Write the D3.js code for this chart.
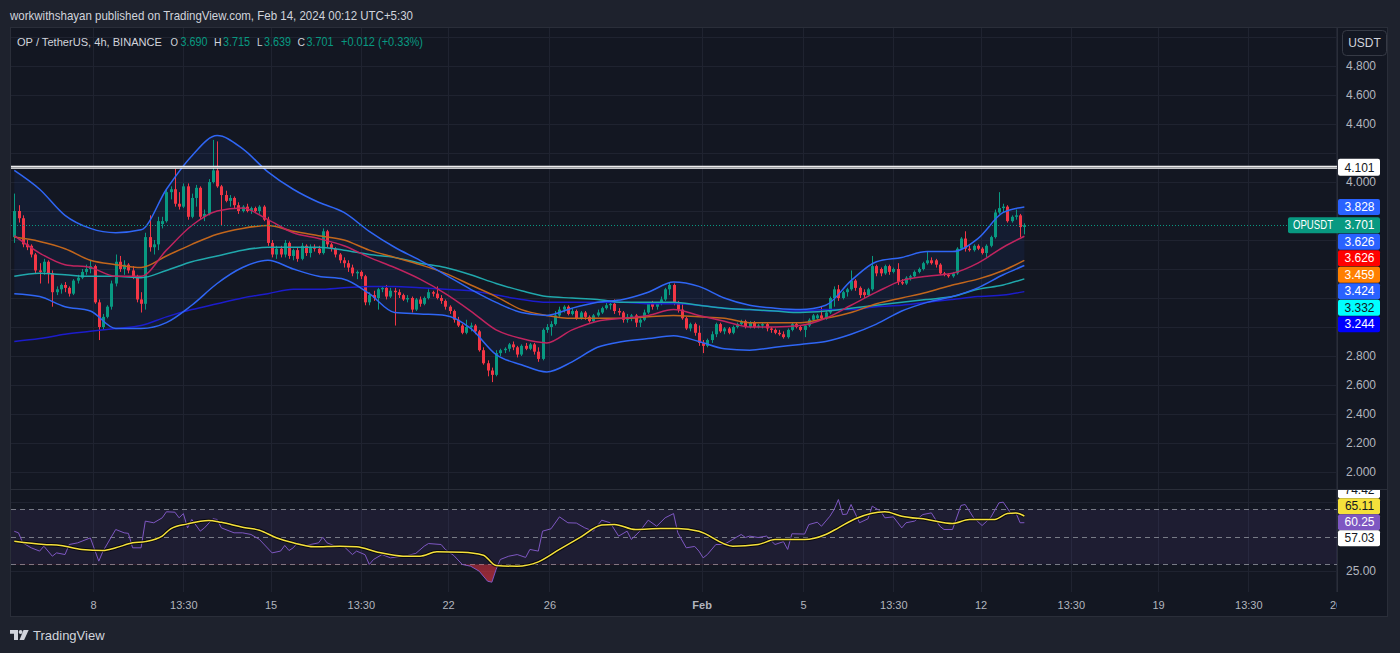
<!DOCTYPE html>
<html><head><meta charset="utf-8">
<script src="https://cdn.jsdelivr.net/npm/d3@7"></script>
<style>
html,body{margin:0;padding:0;background:#1e222d;}
svg{display:block;}
text{font-family:"Liberation Sans",Arial,sans-serif;}
</style></head><body>
<svg id="c" width="1400" height="653"></svg>
<script>
// ---------------- DATA ----------------
const headerText = "workwithshayan published on TradingView.com, Feb 14, 2024 00:12 UTC+5:30";
const symbolText = "OP / TetherUS, 4h, BINANCE";
const candleStart = "2024-01-04T21:30";
const candleStepHours = 4;

const opens = [
3.62,3.80,3.75,3.57,3.56,3.50,3.39,3.38,3.45,3.37,
3.24,3.26,3.29,3.27,3.23,3.32,3.34,3.38,3.40,3.42,
3.17,3.00,3.07,3.14,3.30,3.45,3.40,3.43,3.39,3.35,
3.19,3.16,3.62,3.55,3.57,3.71,3.73,3.93,3.95,3.85,
3.83,3.97,3.76,3.89,3.96,3.76,3.78,4.00,4.08,3.97,
3.91,3.87,3.89,3.84,3.80,3.83,3.80,3.82,3.80,3.83,
3.74,3.58,3.50,3.54,3.50,3.58,3.49,3.53,3.47,3.56,
3.51,3.55,3.54,3.51,3.66,3.57,3.54,3.50,3.46,3.44,
3.41,3.37,3.38,3.35,3.17,3.22,3.20,3.26,3.27,3.21,
3.25,3.24,3.22,3.19,3.20,3.12,3.19,3.16,3.20,3.24,
3.23,3.20,3.18,3.14,3.11,3.05,3.01,2.96,3.00,3.01,
2.97,2.84,2.75,2.70,2.67,2.82,2.84,2.85,2.88,2.86,
2.81,2.87,2.85,2.88,2.83,2.78,2.98,3.00,3.02,3.08,
3.12,3.14,3.09,3.11,3.06,3.10,3.07,3.04,3.08,3.10,
3.13,3.15,3.16,3.11,3.10,3.05,3.07,3.08,3.03,3.05,
3.10,3.16,3.14,3.16,3.19,3.26,3.29,3.16,3.12,3.06,
2.99,3.02,2.96,2.89,2.87,2.91,2.95,3.02,2.97,2.99,
2.96,3.00,3.02,3.04,3.00,3.03,3.00,3.01,3.02,2.99,
2.98,2.96,2.95,2.93,2.98,3.02,3.00,2.98,3.01,3.05,
3.06,3.08,3.06,3.10,3.20,3.26,3.20,3.24,3.26,3.32,
3.27,3.24,3.22,3.26,3.42,3.40,3.37,3.42,3.38,3.40,
3.31,3.30,3.34,3.35,3.38,3.40,3.44,3.46,3.46,3.43,
3.37,3.36,3.35,3.37,3.54,3.61,3.54,3.53,3.56,3.54,
3.51,3.56,3.62,3.79,3.82,3.83,3.73,3.76,3.77,3.690];

const highs = [
3.92,3.84,3.77,3.60,3.57,3.51,3.44,3.47,3.46,3.39,
3.28,3.30,3.31,3.28,3.33,3.36,3.40,3.43,3.46,3.43,
3.19,3.09,3.15,3.32,3.50,3.49,3.46,3.44,3.42,3.36,
3.24,3.65,3.77,3.60,3.76,3.76,3.95,3.97,4.09,3.93,
3.99,3.99,3.92,3.98,3.97,3.81,4.02,4.29,4.28,3.98,
3.94,3.91,3.90,3.86,3.84,3.85,3.83,3.83,3.84,3.84,
3.76,3.60,3.56,3.56,3.60,3.59,3.54,3.55,3.58,3.57,
3.57,3.57,3.56,3.68,3.67,3.58,3.55,3.51,3.48,3.46,
3.43,3.39,3.39,3.36,3.24,3.25,3.27,3.28,3.29,3.27,
3.27,3.26,3.23,3.22,3.21,3.20,3.21,3.21,3.26,3.25,
3.28,3.22,3.19,3.15,3.12,3.07,3.02,3.05,3.03,3.02,
2.98,2.86,2.77,2.72,2.84,2.85,2.86,2.89,2.90,2.87,
2.88,2.89,2.89,2.89,2.86,2.99,3.02,3.04,3.11,3.14,
3.15,3.15,3.13,3.12,3.11,3.11,3.08,3.09,3.12,3.14,
3.17,3.18,3.19,3.13,3.11,3.09,3.09,3.09,3.06,3.12,
3.17,3.18,3.17,3.21,3.27,3.31,3.30,3.18,3.16,3.07,
3.03,3.03,3.01,2.91,2.92,2.97,3.03,3.03,3.00,3.00,
3.01,3.03,3.05,3.05,3.04,3.04,3.02,3.03,3.03,3.00,
2.99,2.98,2.97,2.99,3.03,3.03,3.01,3.02,3.06,3.09,
3.09,3.14,3.11,3.21,3.28,3.29,3.25,3.27,3.39,3.33,
3.28,3.26,3.27,3.49,3.43,3.41,3.43,3.43,3.41,3.44,
3.33,3.35,3.36,3.39,3.41,3.45,3.52,3.48,3.47,3.44,
3.38,3.37,3.38,3.55,3.62,3.66,3.56,3.57,3.57,3.55,
3.57,3.63,3.81,3.93,3.85,3.84,3.77,3.81,3.78,3.715];

const lows = [
3.58,3.72,3.55,3.53,3.48,3.37,3.30,3.36,3.30,3.14,
3.22,3.23,3.24,3.21,3.22,3.30,3.33,3.36,3.37,3.16,
2.91,2.98,3.06,3.12,3.28,3.38,3.36,3.37,3.33,3.17,
3.10,3.12,3.52,3.50,3.53,3.68,3.72,3.88,3.83,3.81,
3.82,3.74,3.75,3.83,3.74,3.73,3.77,3.99,3.96,3.70,
3.86,3.83,3.82,3.78,3.79,3.79,3.78,3.79,3.78,3.73,
3.56,3.48,3.47,3.48,3.48,3.47,3.46,3.45,3.46,3.49,
3.48,3.52,3.50,3.50,3.55,3.52,3.48,3.44,3.41,3.38,
3.35,3.33,3.33,3.15,3.15,3.18,3.12,3.24,3.19,3.20,
3.01,3.20,3.18,3.17,3.10,3.11,3.14,3.15,3.19,3.21,
3.19,3.16,3.12,3.09,3.03,3.00,2.95,2.95,2.97,2.95,
2.83,2.74,2.66,2.62,2.66,2.80,2.82,2.83,2.84,2.79,
2.80,2.84,2.84,2.81,2.76,2.77,2.96,2.94,3.01,3.07,
3.10,3.08,3.08,3.05,3.05,3.05,3.03,3.03,3.07,3.09,
3.12,3.12,3.09,3.08,3.03,3.03,3.04,3.00,3.00,3.04,
3.09,3.12,3.12,3.15,3.18,3.22,3.15,3.10,3.05,2.98,
2.97,2.94,2.87,2.82,2.86,2.89,2.93,2.96,2.95,2.95,
2.95,2.99,3.01,2.99,2.99,2.99,2.99,2.99,2.97,2.96,
2.95,2.94,2.92,2.92,2.97,2.99,2.97,2.93,3.00,3.04,
3.05,3.05,3.05,3.09,3.14,3.18,3.19,3.21,3.25,3.25,
3.20,3.20,3.21,3.25,3.35,3.35,3.36,3.36,3.37,3.29,
3.29,3.29,3.32,3.34,3.37,3.39,3.43,3.43,3.41,3.36,
3.35,3.34,3.34,3.36,3.53,3.52,3.52,3.52,3.53,3.50,
3.48,3.55,3.61,3.78,3.79,3.72,3.72,3.74,3.62,3.639];

const closes = [
3.80,3.75,3.57,3.55,3.50,3.39,3.38,3.45,3.37,3.24,
3.26,3.29,3.27,3.23,3.32,3.34,3.38,3.40,3.42,3.17,
3.00,3.07,3.14,3.30,3.45,3.40,3.43,3.39,3.35,3.19,
3.16,3.62,3.55,3.57,3.73,3.73,3.93,3.95,3.85,3.83,
3.97,3.76,3.89,3.96,3.76,3.78,4.00,4.08,3.97,3.91,
3.87,3.89,3.84,3.80,3.83,3.80,3.82,3.80,3.83,3.74,
3.58,3.50,3.54,3.50,3.58,3.49,3.53,3.47,3.56,3.51,
3.55,3.54,3.51,3.66,3.57,3.54,3.50,3.46,3.44,3.41,
3.37,3.38,3.35,3.17,3.22,3.20,3.26,3.27,3.21,3.25,
3.24,3.22,3.19,3.20,3.12,3.19,3.16,3.20,3.24,3.23,
3.20,3.18,3.14,3.11,3.05,3.01,2.96,3.00,3.01,2.97,
2.84,2.75,2.70,2.67,2.82,2.84,2.85,2.88,2.86,2.81,
2.87,2.85,2.88,2.83,2.78,2.98,3.00,3.02,3.08,3.12,
3.14,3.09,3.11,3.06,3.10,3.07,3.04,3.08,3.10,3.13,
3.15,3.16,3.11,3.10,3.05,3.07,3.08,3.03,3.05,3.10,
3.16,3.14,3.16,3.19,3.26,3.29,3.16,3.12,3.06,2.99,
3.02,2.96,2.89,2.87,2.91,2.95,3.02,2.97,2.99,2.96,
3.00,3.02,3.04,3.00,3.03,3.00,3.01,3.02,2.99,2.98,
2.96,2.95,2.93,2.98,3.02,3.00,2.98,3.01,3.05,3.08,
3.08,3.06,3.10,3.20,3.26,3.20,3.24,3.26,3.32,3.27,
3.22,3.22,3.26,3.42,3.37,3.37,3.42,3.38,3.40,3.31,
3.30,3.34,3.35,3.38,3.40,3.44,3.46,3.44,3.43,3.37,
3.36,3.35,3.37,3.54,3.61,3.54,3.53,3.56,3.54,3.51,
3.56,3.62,3.79,3.82,3.83,3.73,3.76,3.77,3.689,3.701];

// indicator lines, read at these candle indexes
const indSampleIdx = [0,6,12,18,24,30,36,42,48,54,60,66,72,78,84,90,96,102,108,114,120,126,132,138,144,150,156,162,168,174,180,186,192,198,204,210,216,222,228,234,239];
const bbUpper = [4.08,3.95,3.77,3.68,3.65,3.67,3.95,4.18,4.32,4.23,4.07,3.95,3.86,3.79,3.66,3.55,3.46,3.36,3.26,3.17,3.10,3.08,3.13,3.17,3.19,3.24,3.31,3.28,3.20,3.15,3.13,3.12,3.15,3.32,3.45,3.48,3.52,3.52,3.61,3.79,3.828];
const bbLower = [3.23,3.21,3.14,3.11,2.99,2.99,3.03,3.15,3.30,3.41,3.46,3.40,3.35,3.33,3.23,3.10,3.09,3.08,2.99,2.81,2.74,2.69,2.76,2.86,2.90,2.92,2.94,2.90,2.85,2.84,2.86,2.88,2.90,2.95,3.02,3.11,3.17,3.21,3.27,3.36,3.424];
const bbBasis = [3.63,3.51,3.43,3.41,3.35,3.35,3.53,3.70,3.80,3.82,3.74,3.65,3.61,3.56,3.48,3.41,3.33,3.23,3.11,2.98,2.92,2.89,2.98,3.04,3.06,3.08,3.12,3.08,3.04,3.00,3.00,3.01,3.06,3.15,3.24,3.32,3.35,3.37,3.44,3.55,3.626];
const emaOrange = [3.62,3.59,3.54,3.46,3.43,3.41,3.49,3.57,3.64,3.68,3.70,3.66,3.63,3.60,3.53,3.48,3.43,3.37,3.29,3.21,3.12,3.08,3.06,3.06,3.06,3.07,3.08,3.07,3.06,3.03,3.03,3.03,3.06,3.10,3.16,3.20,3.24,3.29,3.33,3.39,3.459];
const emaCyan = [3.35,3.37,3.36,3.35,3.35,3.34,3.39,3.45,3.49,3.53,3.55,3.55,3.55,3.53,3.50,3.48,3.44,3.41,3.36,3.30,3.25,3.21,3.20,3.19,3.17,3.17,3.17,3.15,3.13,3.12,3.11,3.10,3.11,3.13,3.15,3.17,3.19,3.21,3.26,3.29,3.332];
const emaBlue = [2.90,2.92,2.95,2.97,2.99,3.01,3.07,3.12,3.16,3.20,3.23,3.26,3.26,3.27,3.28,3.28,3.27,3.26,3.25,3.22,3.19,3.17,3.17,3.17,3.17,3.16,3.16,3.15,3.13,3.12,3.11,3.11,3.12,3.12,3.14,3.15,3.17,3.19,3.21,3.22,3.244];
const keyLevel = 4.101;

const rsiIdx = [0,1,2,4,6,7,9,10,12,13,15,18,20,21,24,26,27,28,30,31,33,35,36,38,39,40,41,42,44,45,47,48,49,52,54,56,58,61,63,64,65,66,67,69,72,73,74,76,78,80,81,83,84,85,87,89,91,93,95,97,98,101,102,104,106,108,110,112,113,114,115,117,119,121,122,124,125,127,129,131,133,135,137,139,141,143,145,146,148,150,152,154,156,157,159,161,162,163,164,166,168,170,172,173,174,176,178,180,182,183,184,187,188,190,191,193,194,195,196,197,198,200,202,203,205,206,208,210,211,213,215,217,219,220,222,224,225,227,229,231,233,234,236,237,238,239];
const rsiVal = [54,52.9,45.6,42,39.6,43.2,35.9,38.3,37.1,44.4,45.6,49.2,32.3,39.6,55.3,52.9,52.5,42,42,61.4,60.2,63.8,68.2,67.9,63.8,66.9,56.5,62.6,54.1,56.5,63.1,62.6,56.5,52.9,52.9,51.7,48.1,38.3,39.6,43.7,40,42,45.6,43.7,45.6,49.7,45.6,43.2,43,37.1,39.6,37,29.9,33.5,37.1,34.7,35.5,36.4,37.9,43.2,45.1,44.4,40.8,36.4,29.9,28.6,25,17.7,17,26.2,33.5,35.9,37.1,35,40.8,39.6,54.1,55.8,64.5,60.2,60,56.5,54.1,62.1,60.2,50.5,54.1,48.1,54,62.1,57.7,63.8,66.9,52.9,42,43,39.6,34.7,37.1,44.4,44.5,48.1,51.7,49.5,50.5,49.5,50.5,44.4,46.5,40.8,52.2,52,58.9,60.6,57.7,65,69.9,77.1,66.2,66.5,73.5,60.2,63.1,72.3,68.6,63.8,64.5,56.5,60.2,61.4,66.2,67.4,57.7,55.3,55.3,72.8,73.5,63.8,58.2,63.8,74.7,75.2,66.2,67.4,60.2,60.25];
const rsiMaIdx = [0,7,11,16,21,24,28,31,35,37,41,46,49,54,58,62,66,71,77,81,86,92,96,100,106,111,114,119,124,129,134,139,142,147,153,157,162,170,176,180,187,192,195,199,206,210,216,222,226,232,235,237,239];
const rsiMaVal = [46.8,44.4,43.7,40.8,40,42,45.6,46.5,50.5,55.8,59.4,61.9,60.5,57,54.8,49.3,45.6,42.7,43.2,42.7,38.8,35.9,35.9,39.1,38.8,36.6,29.1,28.6,31.8,40.8,49.7,58.5,59,55.3,56,56,54,43.2,44.4,48,48,51.7,56.5,63.1,68.2,65,62.6,59.7,62.6,62.6,66.9,67.4,65.11];
const rsiBandUpperLast = 74.42, rsiBandLowerLast = 57.03;
const rsiLevels = [70, 50, 30];

const priceTicks = [2.0,2.2,2.4,2.6,2.8,3.0,3.2,3.4,3.6,3.8,4.0,4.2,4.4,4.6,4.8,5.0];
const rsiTicks = [25, 75];
const xTickDates = ["2024-01-08T00:00","2024-01-11T13:30","2024-01-15T00:00","2024-01-18T13:30","2024-01-22T00:00","2024-01-26T00:00","2024-02-01T00:00","2024-02-05T00:00","2024-02-08T13:30","2024-02-12T00:00","2024-02-15T13:30","2024-02-19T00:00","2024-02-22T13:30","2024-02-26T00:00"];
const xTickLabels = ["8","13:30","15","13:30","22","26","Feb","5","13:30","12","13:30","19","13:30","26"];

// ---------------- CHART ----------------
const W = 1400, H = 653;
const L = 10, R = 1388, PR = 1337, T = 27, MB = 489, RB = 592, XB = 617;
const svg = d3.select("#c");
const parse = d3.utcParse("%Y-%m-%dT%H:%M");
const t0 = parse(candleStart).getTime();
const tAt = i => new Date(t0 + i * candleStepHours * 3600e3);

const x = d3.scaleUtc().domain([parse(xTickDates[0]), parse(xTickDates[11])]).range([93, 1158]);
const y = d3.scaleLinear().domain([2, 4]).range([472, 182]);
const yr = d3.scaleLinear().domain([30, 70]).range([564.3, 509.3]);

svg.append("rect").attr("width", W).attr("height", H).attr("fill", "#1e222d");
svg.append("rect").attr("x", L + 0.5).attr("y", T + 0.5).attr("width", R - L - 1).attr("height", XB - T - 1)
  .attr("fill", "#131722").attr("stroke", "#2a2e39");

const defs = svg.append("defs");
defs.append("clipPath").attr("id", "cpMain").append("rect").attr("x", L + 1).attr("y", T + 1).attr("width", PR - L - 1).attr("height", MB - T - 1);
defs.append("clipPath").attr("id", "cpRsi").append("rect").attr("x", L + 1).attr("y", MB + 1).attr("width", PR - L - 1).attr("height", RB - MB - 1);
defs.append("clipPath").attr("id", "cpBelow30").append("rect").attr("x", L + 1).attr("y", yr(30)).attr("width", PR - L - 1).attr("height", RB - yr(30));
defs.append("clipPath").attr("id", "cpXAxis").append("rect").attr("x", L + 1).attr("y", RB).attr("width", PR - L - 1).attr("height", XB - RB);
defs.append("clipPath").attr("id", "cpRsiAxis").append("rect").attr("x", PR).attr("y", MB + 1).attr("width", R - PR).attr("height", RB - MB - 1);
const grad = defs.append("linearGradient").attr("id", "gRed").attr("x1", 0).attr("x2", 0).attr("y1", 0).attr("y2", 1);
grad.append("stop").attr("offset", "0%").attr("stop-color", "#f23645").attr("stop-opacity", 0.15);
grad.append("stop").attr("offset", "100%").attr("stop-color", "#f23645").attr("stop-opacity", 0.6);

// grid
const grid = svg.append("g").attr("stroke", "#1f2330").attr("stroke-width", 1);
xTickDates.forEach(d => {
  const xx = Math.round(x(parse(d))) + 0.5;
  if (xx < PR) grid.append("line").attr("x1", xx).attr("x2", xx).attr("y1", T + 1).attr("y2", RB);
});
priceTicks.forEach(v => {
  const yy = Math.round(y(v)) + 0.5;
  if (yy > T + 1 && yy < MB) grid.append("line").attr("x1", L + 1).attr("x2", PR).attr("y1", yy).attr("y2", yy);
});
rsiTicks.forEach(v => {
  const yy = Math.round(yr(v)) + 0.5;
  grid.append("line").attr("x1", L + 1).attr("x2", PR).attr("y1", yy).attr("y2", yy);
});

// pane separators
svg.append("line").attr("x1", L).attr("x2", R).attr("y1", MB + 0.5).attr("y2", MB + 0.5).attr("stroke", "#2a2e39");
svg.append("line").attr("x1", PR + 0.5).attr("x2", PR + 0.5).attr("y1", T).attr("y2", RB).attr("stroke", "#2a2e39");

// ---- main pane
const main = svg.append("g").attr("clip-path", "url(#cpMain)");
const xs = k => x(tAt(indSampleIdx[k]));
const area = d3.area().x((d, k) => xs(k)).y0((d, k) => y(bbLower[k])).y1(d => y(d)).curve(d3.curveMonotoneX);
main.append("path").attr("d", area(bbUpper)).attr("fill", "rgba(41,98,255,0.07)");

const lineOf = arr => d3.line().x((d, k) => xs(k)).y(d => y(d)).curve(d3.curveMonotoneX)(arr);

// candles
const cg = main.append("g");
closes.forEach((c, i) => {
  const cx = Math.round(x(tAt(i)));
  const up = c >= opens[i];
  const col = up ? "#089981" : "#f23645";
  cg.append("line").attr("x1", cx + 0.5).attr("x2", cx + 0.5).attr("y1", y(highs[i])).attr("y2", y(lows[i])).attr("stroke", col).attr("stroke-width", 1);
  const top = y(Math.max(c, opens[i])), bot = y(Math.min(c, opens[i]));
  cg.append("rect").attr("x", cx - 1).attr("width", 3).attr("y", top).attr("height", Math.max(1, bot - top)).attr("fill", col);
});

main.append("path").attr("d", lineOf(emaBlue)).attr("fill", "none").attr("stroke", "#1c1ccc").attr("stroke-width", 1.5);
main.append("path").attr("d", lineOf(emaCyan)).attr("fill", "none").attr("stroke", "#20a8ac").attr("stroke-width", 1.5);
main.append("path").attr("d", lineOf(emaOrange)).attr("fill", "none").attr("stroke", "#c2661c").attr("stroke-width", 1.5);
main.append("path").attr("d", lineOf(bbBasis)).attr("fill", "none").attr("stroke", "#c0245f").attr("stroke-width", 1.5);
main.append("path").attr("d", lineOf(bbUpper)).attr("fill", "none").attr("stroke", "#2f66f5").attr("stroke-width", 1.5);
main.append("path").attr("d", lineOf(bbLower)).attr("fill", "none").attr("stroke", "#2f66f5").attr("stroke-width", 1.5);

// key level
const ky = y(keyLevel);
svg.append("line").attr("x1", L + 1).attr("x2", PR).attr("y1", ky).attr("y2", ky).attr("stroke", "#ffffff").attr("stroke-width", 3);
svg.append("line").attr("x1", L + 1).attr("x2", PR).attr("y1", ky).attr("y2", ky).attr("stroke", "#131722").attr("stroke-width", 0.8).attr("opacity", 0.6);

// last price dotted line
const lastClose = closes[closes.length - 1];
const lp = Math.round(y(lastClose)) + 0.5;
svg.append("line").attr("x1", L + 1).attr("x2", 1288).attr("y1", lp).attr("y2", lp).attr("stroke", "#089981").attr("stroke-dasharray", "1,2");

// ---- RSI pane
const rsiG = svg.append("g").attr("clip-path", "url(#cpRsi)");
rsiG.append("rect").attr("x", L + 1).attr("width", PR - L - 1).attr("y", yr(70)).attr("height", yr(30) - yr(70)).attr("fill", "rgba(126,87,194,0.1)");
rsiLevels.forEach(v => {
  rsiG.append("line").attr("x1", L + 1).attr("x2", PR).attr("y1", Math.round(yr(v)) + 0.5).attr("y2", Math.round(yr(v)) + 0.5)
    .attr("stroke", "#787b86").attr("stroke-dasharray", "5,4").attr("stroke-width", 1);
});
const rx = i => x(tAt(i));
const rsiArea = d3.area().x((d, k) => rx(rsiIdx[k])).y0(yr(30)).y1(d => yr(d));
rsiG.append("g").attr("clip-path", "url(#cpBelow30)").append("path").attr("d", rsiArea(rsiVal)).attr("fill", "url(#gRed)");
rsiG.append("path").attr("d", d3.line().x((d, k) => rx(rsiIdx[k])).y(d => yr(d))(rsiVal)).attr("fill", "none").attr("stroke", "#7e57c2").attr("stroke-width", 1);
const maLine = d3.line().x((d, k) => rx(rsiMaIdx[k])).y(d => yr(d)).curve(d3.curveMonotoneX)(rsiMaVal);
rsiG.append("path").attr("d", maLine).attr("fill", "none").attr("stroke", "#000").attr("stroke-opacity", 0.7).attr("stroke-width", 3.5);
rsiG.append("path").attr("d", maLine).attr("fill", "none").attr("stroke", "#f5e13b").attr("stroke-width", 1.5);

// ---- X axis
const xAxis = d3.axisBottom(x).tickValues(xTickDates.map(parse)).tickFormat((d, k) => xTickLabels[k]).tickSize(0).tickPadding(0);
const xg = svg.append("g").attr("clip-path", "url(#cpXAxis)").append("g").attr("transform", `translate(0,${RB + 9})`).call(xAxis);
xg.select(".domain").remove();
xg.selectAll("text").attr("fill", "#b2b5be").attr("font-size", 11).attr("font-family", "Liberation Sans, Arial, sans-serif")
  .attr("font-weight", (d, k) => xTickLabels[k] === "Feb" ? "bold" : "normal");

// ---- Value labels on the price scale
function stackDown(items, h) {
  items.forEach((it, k) => { it.yc = it.ny; if (k > 0 && it.yc < items[k - 1].yc + h) it.yc = items[k - 1].yc + h; });
}
function stackCenter(items, h) {
  items.forEach(it => it.yc = it.ny);
  for (let n = 0; n < 300; n++) {
    for (let k = 1; k < items.length; k++) {
      const gap = items[k].yc - items[k - 1].yc;
      if (gap < h) { const d = (h - gap) / 2; items[k].yc += d; items[k - 1].yc -= d; }
    }
  }
}
const fmt3 = d3.format(".3f"), fmt2 = d3.format(".2f");
const priceLabels = [
  { v: bbUpper[bbUpper.length - 1], bg: "#2962ff", fg: "#fff" },
  { v: lastClose, bg: "#089981", fg: "#fff", name: "OPUSDT" },
  { v: bbBasis[bbBasis.length - 1], bg: "#2962ff", fg: "#fff" },
  { v: bbBasis[bbBasis.length - 1], bg: "#ff0000", fg: "#fff" },
  { v: emaOrange[emaOrange.length - 1], bg: "#ff7f00", fg: "#fff" },
  { v: bbLower[bbLower.length - 1], bg: "#2962ff", fg: "#fff" },
  { v: emaCyan[emaCyan.length - 1], bg: "#00ffff", fg: "#131722" },
  { v: emaBlue[emaBlue.length - 1], bg: "#0000ff", fg: "#fff" }
];
priceLabels.forEach(p => p.ny = y(p.v));
stackDown(priceLabels, 16.5);

const rsiLabels = [
  { v: rsiBandUpperLast, bg: "#ffffff", fg: "#131722" },
  { v: rsiMaVal[rsiMaVal.length - 1], bg: "#f5e13b", fg: "#131722" },
  { v: rsiVal[rsiVal.length - 1], bg: "#7e57c2", fg: "#fff" },
  { v: rsiBandLowerLast, bg: "#ffffff", fg: "#131722" }
];
rsiLabels.forEach(p => p.ny = yr(p.v));
stackCenter(rsiLabels, 16);
rsiLabels.forEach(p => p.yc -= 3);

// price tick labels (hidden where a value label sits)
const boxes = priceLabels.map(p => [p.yc - 8, p.yc + 8]).concat([[y(keyLevel) - 8.5, y(keyLevel) + 8.5], [28, 56]]);
const axG = svg.append("g");
priceTicks.forEach(v => {
  const yy = y(v);
  if (yy < T + 4 || yy > MB - 4) return;
  if (boxes.some(b => yy + 6 > b[0] && yy - 6 < b[1])) return;
  axG.append("text").attr("x", 1346).attr("y", yy + 4).attr("fill", "#b2b5be").attr("font-size", 12).text(fmt3(v));
});
rsiTicks.forEach(v => {
  const yy = yr(v);
  if (yy < MB + 2 || yy > RB - 4) return;
  if (rsiLabels.some(p => yy + 6 > p.yc - 8 && yy - 6 < p.yc + 8)) return;
  axG.append("text").attr("x", 1346).attr("y", yy + 4).attr("fill", "#b2b5be").attr("font-size", 12).text(fmt2(v));
});

function valueLabel(g, p, txt) {
  if (p.name) {
    g.append("rect").attr("x", 1288).attr("y", p.yc - 8).attr("width", 92).attr("height", 16).attr("rx", 2).attr("fill", p.bg);
    g.append("text").attr("x", 1293).attr("y", p.yc + 4).attr("fill", p.fg).attr("font-size", 12)
      .attr("textLength", 40).attr("lengthAdjust", "spacingAndGlyphs").text(p.name);
  } else {
    g.append("rect").attr("x", 1338).attr("y", p.yc - 8).attr("width", 42).attr("height", 16).attr("rx", 2).attr("fill", p.bg);
  }
  g.append("text").attr("x", 1359.5).attr("y", p.yc + 4).attr("text-anchor", "middle").attr("fill", p.fg).attr("font-size", 12).text(txt);
}
const labG = svg.append("g");
priceLabels.forEach(p => valueLabel(labG, p, fmt3(p.v)));
// key level label
labG.append("rect").attr("x", 1338).attr("y", y(keyLevel) - 8.5).attr("width", 42).attr("height", 17).attr("rx", 2).attr("fill", "#ffffff");
labG.append("text").attr("x", 1359.5).attr("y", y(keyLevel) + 4.5).attr("text-anchor", "middle").attr("fill", "#131722").attr("font-size", 12).text(fmt3(keyLevel));
const rlabG = svg.append("g").attr("clip-path", "url(#cpRsiAxis)");
rsiLabels.forEach(p => valueLabel(rlabG, p, fmt2(p.v)));

// USDT box
svg.append("rect").attr("x", 1342.5).attr("y", 30.5).attr("width", 44).attr("height", 25).attr("rx", 4).attr("fill", "#131722").attr("stroke", "#363a45");
svg.append("text").attr("x", 1364.5).attr("y", 47).attr("text-anchor", "middle").attr("fill", "#d1d4dc").attr("font-size", 12).text("USDT");

// ---- header & legend
svg.append("text").attr("x", 10).attr("y", 19.5).attr("fill", "#d1d4dc").attr("font-size", 13)
  .attr("textLength", 403).attr("lengthAdjust", "spacingAndGlyphs").text(headerText);
const last = opens.length - 1;
const change = closes[last] - closes[last - 1];
const sgn = v => (v >= 0 ? "+" : "");
// [text, x, width, colour, font size]
const legendParts = [
  [symbolText, 17, 145, "#d1d4dc", 11],
  ["O", 170.5, 7.5, "#d1d4dc", 11], [fmt3(opens[last]), 180.5, 27, "#089981", 12],
  ["H", 214, 7.5, "#d1d4dc", 11], [fmt3(highs[last]), 223, 27, "#089981", 12],
  ["L", 257, 5.5, "#d1d4dc", 11], [fmt3(lows[last]), 264, 27, "#089981", 12],
  ["C", 297.5, 7.5, "#d1d4dc", 11], [fmt3(closes[last]), 306.5, 27, "#089981", 12],
  [sgn(change) + fmt3(change) + " (" + sgn(change) + d3.format(".2f")(change / closes[last - 1] * 100) + "%)", 341, 82, "#089981", 12]
];
const leg = svg.append("g");
legendParts.forEach(p => leg.append("text").attr("x", p[1]).attr("y", 46).attr("fill", p[3]).attr("font-size", p[4])
  .attr("textLength", p[2]).attr("lengthAdjust", "spacingAndGlyphs").text(p[0]));

// ---- footer logo
const logo = svg.append("g").attr("fill", "#d1d4dc");
logo.append("path").attr("d", "M10 630h8v10h-4v-6.2h-4z");
logo.append("circle").attr("cx", 20.6).attr("cy", 632).attr("r", 1.9);
logo.append("path").attr("d", "M23.5 630h5.2l-4.6 10h-4.6z");
svg.append("text").attr("x", 33).attr("y", 640).attr("fill", "#d1d4dc").attr("font-size", 13).text("TradingView");
</script>
</body></html>
